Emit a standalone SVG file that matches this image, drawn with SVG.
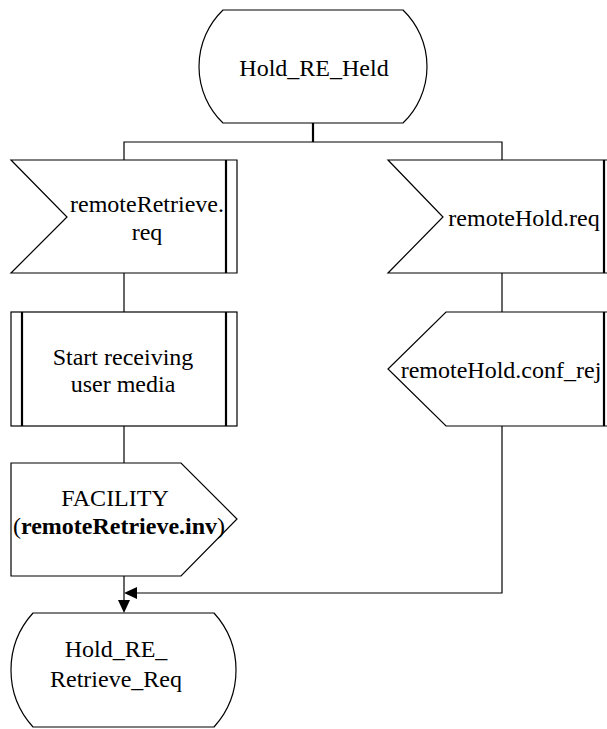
<svg xmlns="http://www.w3.org/2000/svg" width="607" height="729" viewBox="0 0 607 729">
<defs>
<style>
.shape{fill:#fff;stroke:#000;stroke-width:1.2}
.bar{stroke:#000;stroke-width:2.2;fill:none}
.ln{stroke:#000;stroke-width:1.2;fill:none}
.t{font-family:'Liberation Serif','DejaVu Serif',serif;font-size:24px;fill:#000;text-anchor:middle}
.b{font-weight:bold}
</style>
</defs>
<rect width="607" height="729" fill="#fff"/>
<g id="connectors">
<line class="bar" x1="313" y1="123" x2="313" y2="142"/>
<polyline class="ln" points="124,160 124,142 502,142 502,160"/>
<line class="ln" x1="124" y1="273" x2="124" y2="312"/>
<line class="ln" x1="124" y1="426" x2="124" y2="463"/>
<line class="ln" x1="124" y1="576" x2="124" y2="602"/>
<polygon points="118,600 130,600 124,613" fill="#000"/>
<line class="ln" x1="502" y1="273" x2="502" y2="312"/>
<polyline class="ln" points="502,426 502,593 134,593"/>
<polygon points="137,587 137,599 124,593" fill="#000"/>
</g>
<g class="t" font-family="Liberation Serif, DejaVu Serif, serif">
<g id="state-hold-re-held">
<path class="shape" d="M223,10 L403,10 A78.5,78.5 0 0 1 403,123 L223,123 A78.5,78.5 0 0 1 223,10 Z"/>
<text x="314" y="76">Hold_RE_Held</text>
</g>
<g id="input-remoteRetrieve-req">
<polygon class="shape" points="11,160 237,160 237,273 11,273 67,217"/>
<line class="bar" x1="226" y1="160" x2="226" y2="273"/>
<text x="147" y="212">remoteRetrieve.</text>
<text x="147" y="240">req</text>
</g>
<g id="input-remoteHold-req">
<polygon class="shape" points="388,160 616,160 616,273 388,273 443,217"/>
<line class="bar" x1="604" y1="160" x2="604" y2="273"/>
<text x="524" y="226">remoteHold.req</text>
</g>
<g id="procedure-start-receiving">
<rect class="shape" x="11" y="312" width="226" height="114"/>
<line class="bar" x1="22" y1="312" x2="22" y2="426"/>
<line class="bar" x1="226" y1="312" x2="226" y2="426"/>
<text x="123" y="365">Start receiving</text>
<text x="123" y="392">user media</text>
</g>
<g id="output-remoteHold-conf-rej">
<polygon class="shape" points="446,312 616,312 616,426 446,426 388,369"/>
<line class="bar" x1="604" y1="312" x2="604" y2="426"/>
<text x="501" y="378">remoteHold.conf_rej</text>
</g>
<g id="output-facility">
<polygon class="shape" points="11,463 181,463 237,519 181,576 11,576"/>
<text x="115" y="506">FACILITY</text>
<text x="119" y="534"><tspan>(</tspan><tspan class="b">remoteRetrieve.inv</tspan><tspan>)</tspan></text>
</g>
<g id="state-hold-re-retrieve-req">
<path class="shape" d="M33,613 L214,613 A84.8,84.8 0 0 1 214,727 L33,727 A84.8,84.8 0 0 1 33,613 Z"/>
<text x="116" y="657">Hold_RE_</text>
<text x="116" y="687">Retrieve_Req</text>
</g>
</g>
</svg>
